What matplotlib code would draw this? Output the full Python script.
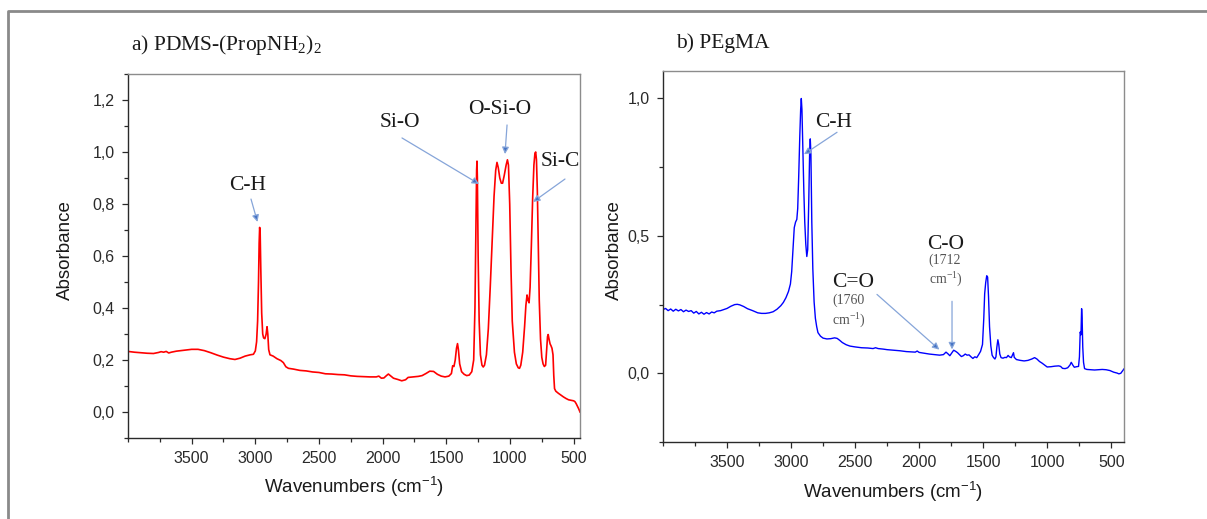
import matplotlib
matplotlib.use("Agg")
import matplotlib.pyplot as plt
from matplotlib.ticker import MultipleLocator, FuncFormatter
from matplotlib.lines import Line2D

plt.rcParams["font.family"] = ["Liberation Sans", "DejaVu Sans"]
plt.rcParams["mathtext.default"] = "regular"

# ---------------- spectrum a) PDMS-(PropNH2)2 ----------------
wn_pdms = [
    4000, 3950, 3900, 3850, 3800, 3760, 3740, 3720, 3700, 3680, 3660, 3620, 3550, 3500,
    3450, 3400, 3350, 3300, 3250, 3200, 3160, 3120, 3080, 3040, 3015, 3000, 2990, 2982,
    2975, 2970, 2966, 2962, 2957, 2950, 2942, 2935, 2925, 2915, 2908, 2902, 2895, 2885,
    2860, 2830, 2800, 2780, 2760, 2740, 2700, 2650, 2600, 2550, 2500, 2450, 2400, 2350,
    2300, 2250, 2200, 2150, 2100, 2050, 2030, 2010, 1990, 1970, 1955, 1940, 1915, 1880,
    1850, 1820, 1800, 1760, 1720, 1690, 1660, 1630, 1600, 1570, 1540, 1510, 1480, 1460,
    1450, 1440, 1430, 1420, 1412, 1405, 1395, 1380, 1360, 1340, 1320, 1300, 1285, 1275,
    1268, 1262, 1259, 1256, 1250, 1242, 1232, 1220, 1210, 1200, 1185, 1170, 1155, 1140,
    1125, 1112, 1102, 1092, 1080, 1068, 1058, 1045, 1030, 1020, 1012, 1002, 992, 982,
    965, 950, 935, 925, 915, 900, 885, 875, 866, 858, 850, 842, 832, 822,
    812, 804, 798, 792, 785, 778, 770, 760, 750, 740, 730, 720, 712, 705,
    700, 693, 685, 678, 670, 662, 656, 650, 640, 620, 600, 580, 560, 540,
    520, 500, 490, 480, 470, 460, 450,
]
abs_pdms = [
    0.233, 0.230, 0.228, 0.226, 0.225, 0.229, 0.232, 0.230, 0.233, 0.227, 0.230, 0.234, 0.238, 0.241,
    0.241, 0.236, 0.228, 0.219, 0.211, 0.205, 0.202, 0.207, 0.215, 0.220, 0.222, 0.235, 0.270, 0.350,
    0.500, 0.650, 0.710, 0.690, 0.550, 0.380, 0.300, 0.285, 0.282, 0.300, 0.328, 0.300, 0.240, 0.220,
    0.215, 0.205, 0.198, 0.190, 0.174, 0.168, 0.165, 0.160, 0.158, 0.154, 0.152, 0.147, 0.146, 0.144,
    0.143, 0.139, 0.137, 0.136, 0.135, 0.135, 0.138, 0.130, 0.131, 0.140, 0.146, 0.140, 0.130, 0.125,
    0.120, 0.124, 0.133, 0.135, 0.137, 0.140, 0.148, 0.157, 0.156, 0.145, 0.138, 0.135, 0.138, 0.148,
    0.178, 0.175, 0.200, 0.245, 0.263, 0.240, 0.185, 0.155, 0.145, 0.140, 0.142, 0.155, 0.200, 0.400,
    0.700, 0.930, 0.965, 0.900, 0.600, 0.350, 0.220, 0.180, 0.173, 0.180, 0.220, 0.320, 0.480, 0.660,
    0.830, 0.930, 0.960, 0.940, 0.900, 0.880, 0.880, 0.910, 0.950, 0.970, 0.950, 0.800, 0.550, 0.350,
    0.230, 0.185, 0.170, 0.168, 0.180, 0.230, 0.330, 0.410, 0.450, 0.430, 0.420, 0.480, 0.640, 0.820,
    0.950, 0.995, 1.000, 0.970, 0.850, 0.650, 0.430, 0.280, 0.210, 0.185, 0.175, 0.180, 0.240, 0.290,
    0.298, 0.280, 0.262, 0.255, 0.245, 0.220, 0.140, 0.090, 0.080, 0.072, 0.065, 0.058, 0.052, 0.047,
    0.045, 0.043, 0.040, 0.032, 0.022, 0.012, 0.000,
]

# ---------------- spectrum b) PEgMA ----------------
wn_pegma = [
    4000, 3980, 3960, 3940, 3920, 3900, 3880, 3860, 3840, 3820, 3800, 3780, 3760, 3740,
    3720, 3700, 3680, 3660, 3640, 3620, 3600, 3580, 3550, 3520, 3500, 3470, 3440, 3420,
    3400, 3370, 3340, 3300, 3260, 3230, 3200, 3170, 3140, 3110, 3080, 3060, 3040, 3020,
    3005, 2995, 2985, 2975, 2965, 2955, 2948, 2940, 2932, 2925, 2920, 2915, 2908, 2900,
    2893, 2885, 2877, 2870, 2862, 2855, 2850, 2845, 2838, 2830, 2820, 2810, 2800, 2790,
    2770, 2750, 2720, 2690, 2660, 2640, 2620, 2600, 2570, 2540, 2500, 2450, 2400, 2360,
    2340, 2320, 2280, 2250, 2200, 2150, 2100, 2060, 2030, 2015, 2000, 1960, 1920, 1880,
    1840, 1810, 1790, 1775, 1760, 1745, 1730, 1715, 1700, 1685, 1670, 1655, 1640, 1625,
    1610, 1595, 1580, 1565, 1550, 1535, 1520, 1505, 1495, 1488, 1480, 1472, 1465, 1458,
    1450, 1440, 1430, 1420, 1408, 1400, 1393, 1385, 1378, 1370, 1360, 1345, 1330, 1318,
    1305, 1295, 1280, 1270, 1263, 1257, 1240, 1210, 1180, 1150, 1120, 1098, 1080, 1060,
    1040, 1020, 1000, 970, 940, 910, 895, 880, 860, 840, 822, 812, 800, 788,
    770, 755, 748, 742, 736, 731, 727, 722, 716, 708, 690, 660, 630, 600,
    570, 540, 510, 480, 455, 440, 425, 412, 400,
]
abs_pegma = [
    0.232, 0.236, 0.228, 0.234, 0.226, 0.233, 0.227, 0.232, 0.224, 0.230, 0.225, 0.228, 0.219, 0.225,
    0.216, 0.222, 0.215, 0.221, 0.216, 0.223, 0.220, 0.226, 0.228, 0.233, 0.236, 0.244, 0.250, 0.251,
    0.249, 0.243, 0.235, 0.228, 0.220, 0.218, 0.218, 0.220, 0.224, 0.233, 0.246, 0.258, 0.275, 0.298,
    0.325, 0.370, 0.450, 0.530, 0.550, 0.560, 0.600, 0.720, 0.860, 0.960, 1.000, 0.960, 0.820, 0.660,
    0.550, 0.470, 0.425, 0.450, 0.620, 0.800, 0.853, 0.800, 0.550, 0.380, 0.260, 0.200, 0.170, 0.148,
    0.135, 0.128, 0.125, 0.126, 0.129, 0.127, 0.120, 0.112, 0.104, 0.099, 0.096, 0.093, 0.092, 0.090,
    0.093, 0.090, 0.088, 0.086, 0.084, 0.082, 0.079, 0.078, 0.077, 0.081, 0.076, 0.073, 0.070, 0.068,
    0.066, 0.068, 0.077, 0.071, 0.064, 0.074, 0.084, 0.080, 0.075, 0.068, 0.061, 0.064, 0.070, 0.066,
    0.067, 0.060, 0.054, 0.060, 0.057, 0.068, 0.080, 0.105, 0.200, 0.290, 0.330, 0.355, 0.350, 0.280,
    0.170, 0.100, 0.066, 0.058, 0.052, 0.060, 0.095, 0.122, 0.105, 0.070, 0.057, 0.055, 0.058, 0.057,
    0.065, 0.060, 0.057, 0.068, 0.075, 0.058, 0.050, 0.047, 0.045, 0.047, 0.052, 0.057, 0.052, 0.043,
    0.037, 0.030, 0.023, 0.024, 0.026, 0.027, 0.025, 0.018, 0.017, 0.020, 0.030, 0.040, 0.030, 0.022,
    0.024, 0.025, 0.060, 0.150, 0.140, 0.235, 0.200, 0.095, 0.040, 0.017, 0.014, 0.013, 0.012, 0.013,
    0.014, 0.013, 0.010, 0.004, 0.001, -0.002, 0.000, 0.008, 0.016,
]

xticks = [3500, 3000, 2500, 2000, 1500, 1000, 500]

W, H = 1207, 519
fig = plt.figure(figsize=(W / 100, H / 100), dpi=100)
fig.patch.set_facecolor("white")


def rect(x0, y0, x1, y1):
    return [x0 / W, 1 - y1 / H, (x1 - x0) / W, (y1 - y0) / H]


# outer frame (left and top edges)
fig.add_artist(Line2D([8 / W, 8 / W, 1.01], [-0.01, 1 - 11 / H, 1 - 11 / H],
                      transform=fig.transFigure, color="#8a8a8a", lw=2.0))

comma = FuncFormatter(lambda v, p: f"{v:.1f}".replace(".", ","))

ARROW = dict(arrowstyle="-|>", ec="#86a5d9", fc="#4472c4", lw=0.9,
             mutation_scale=10, shrinkA=0, shrinkB=0)
SERIF = ["Liberation Serif", "DejaVu Serif"]
TXT = "#1a1a1a"


def style_axes(ax, xlim, ylim, ymaj, ymin, tickpad):
    ax.set_xlim(*xlim)
    ax.set_ylim(*ylim)
    ax.set_xticks(xticks)
    ax.xaxis.set_minor_locator(MultipleLocator(250))
    ax.yaxis.set_major_locator(MultipleLocator(ymaj))
    ax.yaxis.set_minor_locator(MultipleLocator(ymin))
    ax.yaxis.set_major_formatter(comma)
    for s in ("top", "right"):
        ax.spines[s].set_color("#8c8c8c")
        ax.spines[s].set_linewidth(1.0)
    for s in ("left", "bottom"):
        ax.spines[s].set_color("#2a2a2a")
        ax.spines[s].set_linewidth(1.0)
    ax.tick_params(which="both", direction="out", color="#2a2a2a", width=0.9,
                   labelsize=11.5, labelcolor="#2a2a2a", pad=tickpad, top=False, right=False)
    ax.tick_params(which="major", length=4)
    ax.tick_params(which="minor", length=3)
    ax.set_xlabel("Wavenumbers (cm$^{-1}$)", fontsize=13.5, color="#1a1a1a")
    ax.set_ylabel("Absorbance", fontsize=13.5, color="#1a1a1a")
    ax.xaxis.label.set_va("center")
    ax.yaxis.label.set_va("center")


# ---------- panel a ----------
ax1 = fig.add_axes(rect(128, 74, 580, 438))
ax1.plot(wn_pdms, abs_pdms, color="#ff0000", lw=1.2)
style_axes(ax1, (4000, 450), (-0.1, 1.3), 0.2, 0.1, 5.5)
ax1.xaxis.set_label_coords(0.5, -0.135)
ax1.yaxis.set_label_coords(-0.139, 0.516)

fig.text(131 / W, 1 - 45 / H, "a) PDMS-(PropNH$_2$)$_2$", fontsize=15.5,
         family=SERIF, color=TXT, va="center", ha="left")

ax1.text(3058, 0.873, "C-H", fontsize=15.5, family=SERIF, color=TXT, ha="center", va="center")
ax1.annotate("", xy=(2983, 0.731), xytext=(3034, 0.819), arrowprops=ARROW)

ax1.text(1864, 1.112, "Si-O", fontsize=15.5, family=SERIF, color=TXT, ha="center", va="center")
ax1.annotate("", xy=(1243, 0.877), xytext=(1848, 1.054), arrowprops=ARROW)

ax1.text(1078, 1.165, "O-Si-O", fontsize=15.5, family=SERIF, color=TXT, ha="center", va="center")
ax1.annotate("", xy=(1039, 0.992), xytext=(1023, 1.104), arrowprops=ARROW)

ax1.text(756, 0.962, "Si-C", fontsize=15.5, family=SERIF, color=TXT, ha="left", va="center",
         clip_on=True)
ax1.annotate("", xy=(819, 0.808), xytext=(568, 0.896), arrowprops=ARROW)

# ---------- panel b ----------
ax2 = fig.add_axes(rect(663, 71, 1124, 442))
ax2.plot(wn_pegma, abs_pegma, color="#0000ff", lw=1.0)
style_axes(ax2, (4000, 400), (-0.25, 1.1), 0.5, 0.25, 5.5)
ax2.xaxis.set_label_coords(0.5, -0.135)
ax2.yaxis.set_label_coords(-0.106, 0.517)

fig.text(676 / W, 1 - 43 / H, "b) PEgMA", fontsize=15.5,
         family=SERIF, color=TXT, va="center", ha="left")

ax2.text(2665, 0.913, "C-H", fontsize=15.5, family=SERIF, color=TXT, ha="center", va="center")
ax2.annotate("", xy=(2899, 0.797), xytext=(2641, 0.877), arrowprops=ARROW)

ax2.text(2680, 0.332, "C=O", fontsize=15.5, family=SERIF, color=TXT, ha="left", va="center")
ax2.text(2680, 0.223, "(1760\ncm$^{-1}$)", fontsize=10, family=SERIF, color="#555555",
         ha="left", va="center", multialignment="left", linespacing=1.35)
ax2.annotate("", xy=(1842, 0.086), xytext=(2329, 0.287), arrowprops=ARROW)

ax2.text(1790, 0.469, "C-O", fontsize=15.5, family=SERIF, color=TXT, ha="center", va="center")
ax2.text(1925, 0.371, "(1712\ncm$^{-1}$)", fontsize=10, family=SERIF, color="#555555",
         ha="left", va="center", multialignment="left", linespacing=1.35)
ax2.annotate("", xy=(1743, 0.087), xytext=(1743, 0.262), arrowprops=ARROW)

fig.savefig("out.png", dpi=100, facecolor="white")
